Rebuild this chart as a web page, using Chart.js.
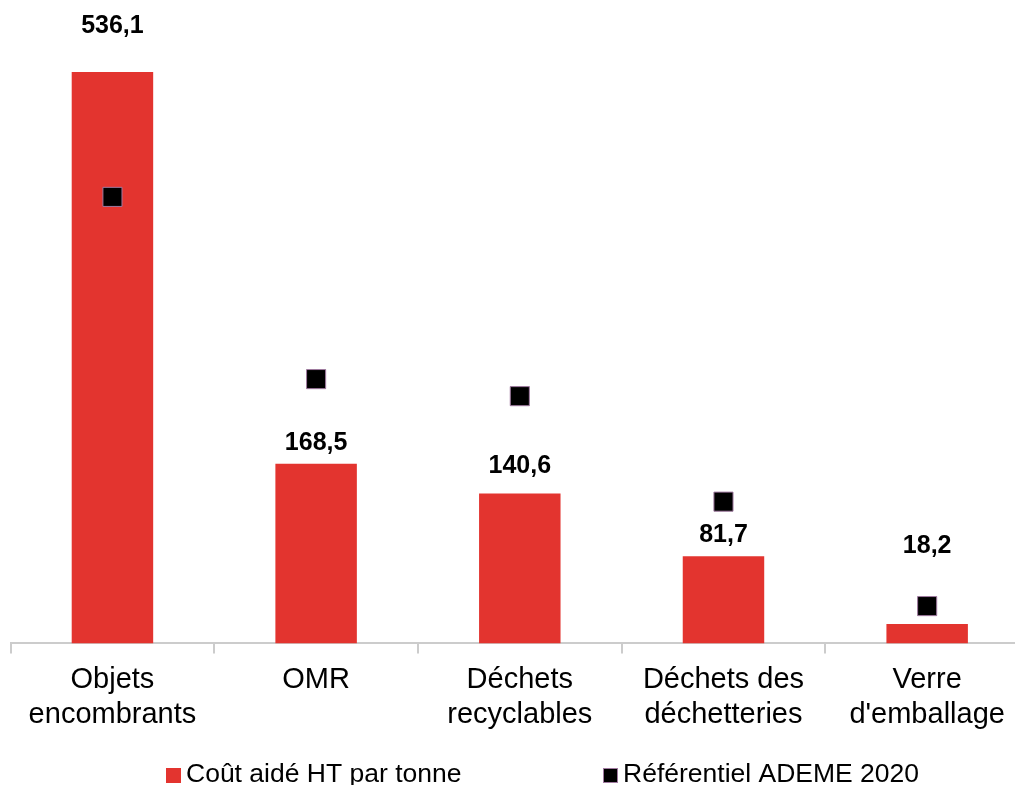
<!DOCTYPE html>
<html>
<head>
<meta charset="utf-8">
<script src="https://cdn.jsdelivr.net/npm/chart.js"></script>
<style>
  html, body { margin: 0; padding: 0; background: #fff; overflow: hidden; }
  #wrap { position: absolute; left: 0; top: 0; width: 1040px; height: 785px; }
</style>
</head>
<body>
<div id="wrap"><canvas id="chart" width="1040" height="785"></canvas></div>
<script>
// categories and values
const categories = [
  ['Objets', 'encombrants'],
  ['OMR'],
  ['Déchets', 'recyclables'],
  ['Déchets des', 'déchetteries'],
  ['Verre', "d'emballage"]
];
const coutAide = [536.1, 168.5, 140.6, 81.7, 18.2];
const referentielAdeme = [419, 248, 232, 133, 35];

const seriesNames = ['Coût aidé HT par tonne', 'Référentiel ADEME 2020'];

// distance (px) of each value label above its bar top, as placed in the original
const labelLift = [46, 21, 27, 21, 78];

const FONT = "'Liberation Sans', Arial, sans-serif";

// value labels above the bars (comma decimal)
const valueLabels = {
  id: 'valueLabels',
  afterDatasetsDraw(chart) {
    const meta = chart.getDatasetMeta(0);
    const ctx = chart.ctx;
    ctx.save();
    ctx.font = 'bold 25px ' + FONT;
    ctx.fillStyle = '#000';
    ctx.textAlign = 'center';
    ctx.textBaseline = 'middle';
    meta.data.forEach((bar, i) => {
      const txt = coutAide[i].toFixed(1).replace('.', ',');
      ctx.fillText(txt, bar.x, bar.y - labelLift[i]);
    });
    ctx.restore();
  }
};

// legend at the bottom, laid out like the original
const bottomLegend = {
  id: 'bottomLegend',
  afterDraw(chart) {
    const ctx = chart.ctx;
    const items = [
      { x: 166, ds: chart.data.datasets[0] },
      { x: 603, ds: chart.data.datasets[1] }
    ];
    ctx.save();
    ctx.font = '26.5px ' + FONT;
    ctx.textBaseline = 'middle';
    ctx.textAlign = 'left';
    items.forEach(it => {
      ctx.fillStyle = it.ds.backgroundColor;
      ctx.fillRect(it.x, 768, 15, 15);
      if (it.ds.type === 'line') {
        ctx.strokeStyle = it.ds.borderColor;
        ctx.lineWidth = 1;
        ctx.strokeRect(it.x + 0.5, 768.5, 14, 14);
      }
      ctx.fillStyle = '#000';
      ctx.fillText(it.ds.label, it.x + 20, 775);
    });
    ctx.restore();
  }
};

new Chart(document.getElementById('chart').getContext('2d'), {
  data: {
    labels: categories,
    datasets: [
      {
        type: 'bar',
        label: seriesNames[0],
        data: coutAide,
        backgroundColor: '#e3342f',
        borderWidth: 0,
        categoryPercentage: 1,
        barPercentage: 0.4,
        order: 1
      },
      {
        type: 'line',
        label: seriesNames[1],
        data: referentielAdeme,
        showLine: false,
        pointStyle: 'rect',
        pointRadius: 13.5,
        pointHoverRadius: 13.5,
        backgroundColor: '#000000',
        borderColor: '#a07aa0',
        borderWidth: 1,
        order: 0
      }
    ]
  },
  options: {
    responsive: false,
    devicePixelRatio: 1,
    animation: false,
    layout: { autoPadding: false, padding: { left: 10.6, right: 11, top: 4, bottom: 44 } },
    plugins: {
      legend: { display: false },
      tooltip: { enabled: false }
    },
    scales: {
      x: {
        offset: true,
        grid: {
          display: true,
          offset: true,
          drawOnChartArea: false,
          drawTicks: true,
          tickLength: 10,
          color: '#cccccc',
          lineWidth: 2
        },
        border: { display: true, color: '#cccccc', width: 2 },
        ticks: {
          color: '#000',
          font: { family: FONT, size: 29 },
          padding: 9,
          maxRotation: 0,
          autoSkip: false
        }
      },
      y: {
        display: false,
        min: 0,
        max: 600
      }
    }
  },
  plugins: [valueLabels, bottomLegend]
});
</script>
</body>
</html>
